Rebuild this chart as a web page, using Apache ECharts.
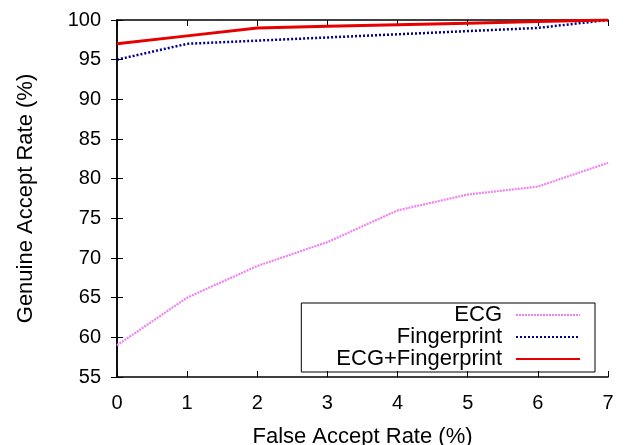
<!DOCTYPE html>
<html>
<head>
<meta charset="utf-8">
<script src="https://cdn.jsdelivr.net/npm/echarts@6/dist/echarts.min.js"></script>
<style>
html,body{margin:0;padding:0;background:#fff;}
#chart{width:625px;height:445px;}
</style>
</head>
<body>
<div id="chart"></div>
<script>
const farValues = [0, 1, 2, 3, 4, 5, 6, 7];
const ecgValues = [59, 65, 69, 72, 76, 78, 79, 82];
const fingerprintValues = [95, 97, 97.4, 97.8, 98.2, 98.6, 99, 100];
const combinedValues = [97, 98, 99, 99.2, 99.4, 99.6, 99.8, 100];
const seriesNames = ['ECG', 'Fingerprint', 'ECG+Fingerprint'];

const pair = vals => farValues.map((x, i) => [x, vals[i]]);
const FONT = 'Liberation Sans, Arial, Helvetica, sans-serif';

const chart = echarts.init(document.getElementById('chart'));
const tickStyle = { show: true, inside: true, length: 6, lineStyle: { color: '#000', width: 1 } };
const axisLineStyle = { show: true, lineStyle: { color: '#000', width: 1.5 } };

chart.setOption({
  animation: false,
  backgroundColor: '#fff',
  grid: { left: 117, right: 17, top: 20, bottom: 68, containLabel: false, outerBoundsMode: 'none' },
  xAxis: [
    {
      type: 'value', min: 0, max: 7, interval: 1, position: 'bottom',
      name: 'False Accept Rate (%)', nameLocation: 'middle', nameGap: 49,
      nameTextStyle: { fontFamily: FONT, fontSize: 22, color: '#000' },
      axisLine: axisLineStyle, axisTick: tickStyle,
      axisLabel: { fontFamily: FONT, fontSize: 20, color: '#000', margin: 16 },
      splitLine: { show: false }
    },
    {
      type: 'value', min: 0, max: 7, interval: 1, position: 'top',
      axisLine: axisLineStyle, axisTick: tickStyle,
      axisLabel: { show: false }, splitLine: { show: false }
    }
  ],
  yAxis: [
    {
      type: 'value', min: 55, max: 100, interval: 5, position: 'left',
      name: 'Genuine Accept Rate (%)', nameLocation: 'middle', nameGap: 80, nameRotate: 90,
      nameTextStyle: { fontFamily: FONT, fontSize: 22, color: '#000' },
      axisLine: axisLineStyle, axisTick: tickStyle,
      axisLabel: { fontFamily: FONT, fontSize: 20, color: '#000', margin: 16 },
      splitLine: { show: false }
    },
    {
      type: 'value', min: 55, max: 100, interval: 5, position: 'right',
      axisLine: axisLineStyle, axisTick: tickStyle,
      axisLabel: { show: false }, splitLine: { show: false }
    }
  ],
  legend: {
    orient: 'vertical',
    align: 'right',
    right: 30,
    top: 303,
    padding: [1, 14, 2, 35],
    borderColor: '#000',
    borderWidth: 1,
    itemWidth: 64,
    itemHeight: 22,
    itemGap: 0,
    selectedMode: false,
    itemStyle: { opacity: 0 },
    textStyle: { fontFamily: FONT, fontSize: 22, lineHeight: 22, color: '#000', padding: [0, 9, 0, 0] },
    data: seriesNames
  },
  series: [
    {
      name: seriesNames[0], type: 'line', data: pair(ecgValues),
      symbol: 'none', z: 2,
      lineStyle: { color: '#ee82ee', width: 2.2, type: [2, 1] },
      itemStyle: { color: '#ee82ee' }
    },
    {
      name: seriesNames[1], type: 'line', data: pair(fingerprintValues),
      symbol: 'none', z: 3,
      lineStyle: { color: '#00008b', width: 2.5, type: [2, 2] },
      itemStyle: { color: '#00008b' }
    },
    {
      name: seriesNames[2], type: 'line', data: pair(combinedValues),
      symbol: 'none', z: 4,
      lineStyle: { color: '#e60000', width: 3, type: 'solid' },
      itemStyle: { color: '#e60000' }
    }
  ]
});
</script>
</body>
</html>
